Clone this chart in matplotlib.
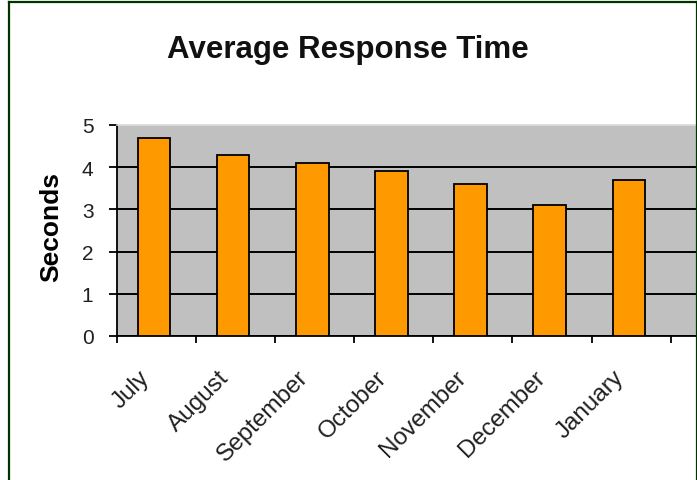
import matplotlib
matplotlib.use("Agg")
import matplotlib.pyplot as plt
import matplotlib.transforms as mtransforms
from matplotlib.lines import Line2D

plt.rcParams['font.family'] = ['Liberation Sans', 'DejaVu Sans']

# data
months = ['July', 'August', 'September', 'October', 'November', 'December', 'January']
seconds = [4.7, 4.3, 4.1, 3.9, 3.6, 3.1, 3.7]
y_ticks = [0, 1, 2, 3, 4, 5]

W, H = 697, 481
fig = plt.figure(figsize=(W / 100, H / 100), dpi=100)
fig.patch.set_facecolor('white')

# plot area in pixels: left 117, right 696, top 126, bottom 337
ax = fig.add_axes([117 / W, (H - 337) / H, (696 - 117) / W, (337 - 126) / H])
ax.set_facecolor('#C0C0C0')

x = [i + 0.47 for i in range(len(months))]
ax.bar(x, seconds, width=0.41, color='#FF9900', edgecolor='black',
       linewidth=1.3, zorder=3)

ax.set_ylim(0, 5)
ax.set_xlim(0, 7.32)
ax.set_yticks(y_ticks)
ax.yaxis.grid(True, color='black', linewidth=1.4, zorder=1)
ax.set_axisbelow(True)
# no dark gridline on the top edge of the plot area
ax.yaxis.get_gridlines()[-1].set_visible(False)
ax.tick_params(axis='y', direction='out', length=6, width=1.3, pad=11,
               labelsize=15, colors='black')
ax.set_yticklabels([str(t) for t in y_ticks], color='#202020')

ax.set_xticks(range(len(months) + 1))
ax.set_xticklabels([])
ax.tick_params(axis='x', direction='out', length=5, width=1.3)

ax.spines['right'].set_visible(False)
ax.spines['top'].set_color('#DCDCDC')
ax.spines['top'].set_linewidth(1.2)
for side in ['left', 'bottom']:
    ax.spines[side].set_linewidth(1.3)
    ax.spines[side].set_color('black')

# rotated month labels, right end a little left of each category centre
offset = mtransforms.ScaledTranslation(-18 / 100, -30 / 100, fig.dpi_scale_trans)
trans = ax.get_xaxis_transform() + offset
for i, m in enumerate(months):
    ax.text(i + 0.5, 0, m, transform=trans, rotation=45, rotation_mode='anchor',
            ha='right', va='top', fontsize=17.5, color='#202020')

ax.set_ylabel('Seconds', fontsize=19, fontweight='bold')
ax.yaxis.set_label_coords((63 - 117) / (696 - 117), 0.52)

fig.text(347.5 / W, (H - 58) / H, 'Average Response Time', ha='center',
         va='baseline', fontsize=22.5, fontweight='bold', color='#111111')

# dark green frame (left, top, right edges)
green = '#003300'
fig.add_artist(Line2D([8.5 / W, 8.5 / W], [0, (H - 2.5) / H], color=green,
                      linewidth=1.6, transform=fig.transFigure))
fig.add_artist(Line2D([8.5 / W, 696.5 / W], [(H - 2.5) / H, (H - 2.5) / H],
                      color=green, linewidth=1.6, transform=fig.transFigure))
fig.add_artist(Line2D([696.5 / W, 696.5 / W], [0, (H - 2.5) / H], color=green,
                      linewidth=1.6, transform=fig.transFigure))

fig.savefig('out.png', dpi=100)
